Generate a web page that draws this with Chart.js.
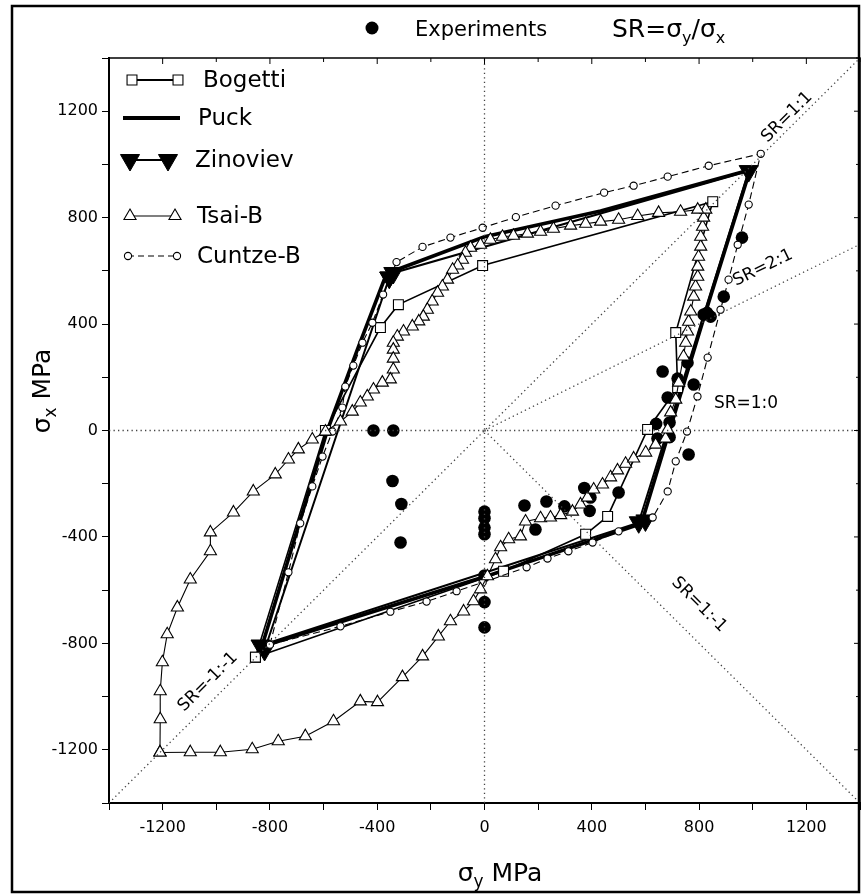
<!DOCTYPE html>
<html>
<head>
<meta charset="utf-8">
<script src="https://cdn.jsdelivr.net/npm/chart.js@4/dist/chart.umd.min.js"></script>
<style>
  html, body { margin: 0; padding: 0; background: #fff; overflow: hidden; }
  #wrap { width: 861px; height: 894px; overflow: hidden; }
</style>
</head>
<body>
<div id="wrap"><canvas id="chart" width="861" height="894"></canvas></div>
<script>
// Achsen
const axisMin = -1400;
const axisMax = 1400;
const tickLabels = [-1200, -800, -400, 0, 400, 800, 1200];

// SR-Hilfslinien [x1, y1, x2, y2]
const srLines = [
  [-1400, 0, 1400, 0],
  [0, -1400, 0, 1400],
  [-1400, -1400, 1400, 1400],
  [0, 0, 1400, 700],
  [0, 0, 1400, -1400]
];
const srLabels = ['SR=1:1', 'SR=2:1', 'SR=1:0', 'SR=1:-1', 'SR=-1:-1'];

// Modelle (sigma_y, sigma_x)
const bogetti = [[-854,-852],[-593,0],[-388,387],[-321,473],[-7,620],[851,860],[713,368],[720,161],[608,4],[459,-323],[377,-390],[71,-529],[-854,-852]];
const puck = [[-365,590],[0,728],[433,825],[990,980],[820,430],[690,0],[585,-350],[0,-550],[-830,-812],[-586,0],[-474,304],[-365,590]];
const zinoviev = [[-355,575],[-340,592],[985,975],[575,-345],[600,-338],[-835,-808],[-820,-825],[-355,575]];
const tsai = [[-1210,-1210],[-1097,-1209],[-985,-1209],[-866,-1198],[-769,-1168],[-668,-1149],[-563,-1093],[-463,-1018],[-399,-1021],[-306,-927],[-231,-849],[-172,-774],[-127,-717],[-78,-680],[-41,-642],[-15,-597],[11,-548],[41,-484],[60,-439],[90,-409],[134,-398],[153,-342],[209,-330],[246,-327],[284,-318],[328,-305],[358,-278],[384,-252],[407,-222],[440,-203],[470,-176],[496,-150],[526,-125],[556,-105],[601,-83],[638,-53],[675,-30],[683,4],[694,68],[713,116],[724,180],[742,278],[750,330],[757,372],[761,409],[769,447],[780,503],[787,541],[795,578],[795,616],[798,653],[806,691],[806,728],[813,766],[817,800],[825,830],[795,830],[731,822],[649,818],[571,806],[500,792],[433,785],[377,777],[321,770],[257,758],[209,747],[160,740],[108,732],[67,728],[22,717],[-15,698],[-52,687],[-71,668],[-82,642],[-100,620],[-119,604],[-138,567],[-157,541],[-175,518],[-195,485],[-213,454],[-228,428],[-245,410],[-269,391],[-302,372],[-325,353],[-340,330],[-340,304],[-340,270],[-340,229],[-351,192],[-381,180],[-414,154],[-437,128],[-463,105],[-493,71],[-537,34],[-593,-4],[-642,-34],[-694,-71],[-731,-109],[-780,-165],[-862,-229],[-936,-308],[-1022,-383],[-1022,-454],[-1097,-560],[-1145,-665],[-1183,-766],[-1201,-871],[-1209,-980],[-1209,-1085],[-1210,-1210]];
const cuntze = [[-800,-805],[-731,-533],[-687,-349],[-642,-210],[-604,-98],[-567,-4],[-530,86],[-519,165],[-489,244],[-455,330],[-418,405],[-378,511],[-328,633],[-231,690],[-127,725],[-7,762],[117,802],[265,845],[446,894],[556,920],[683,954],[836,995],[1030,1040],[985,849],[944,698],[910,567],[880,454],[832,274],[794,128],[755,-4],[713,-116],[683,-229],[627,-327],[500,-379],[403,-421],[313,-454],[235,-481],[157,-514],[-7,-571],[-104,-604],[-216,-643],[-351,-681],[-537,-736],[-800,-805]];

// Experimente
const experiments = [[-414,0],[-340,0],[-343,-190],[-310,-276],[-313,-421],[0,-305],[0,-330],[0,-365],[0,-390],[0,-545],[0,-645],[0,-740],[149,-282],[190,-372],[231,-267],[298,-285],[372,-216],[395,-252],[392,-302],[500,-233],[761,-90],[645,-30],[690,-25],[640,25],[690,30],[683,124],[720,195],[664,222],[757,255],[780,173],[817,436],[843,428],[830,442],[892,503],[960,725]];

const FONT = '"DejaVu Sans", "Liberation Sans", Arial, sans-serif';
const toPts = arr => arr.map(p => ({ x: p[0], y: p[1] }));

function makeDatasets() {
  const datasets = [];
  srLines.forEach(l => {
    datasets.push({
      data: [{ x: l[0], y: l[1] }, { x: l[2], y: l[3] }],
      showLine: true, borderColor: '#444', borderWidth: 1.3, borderDash: [1.3, 3.2],
      pointRadius: 0
    });
  });
  datasets.push({
    label: 'Tsai-B', data: toPts(tsai), showLine: true,
    borderColor: '#000', borderWidth: 1.1, pointStyle: 'triangle', pointRadius: 7,
    pointBackgroundColor: '#fff', pointBorderColor: '#000', pointBorderWidth: 1.1
  });
  datasets.push({
    label: 'Cuntze-B', data: toPts(cuntze), showLine: true,
    borderColor: '#000', borderWidth: 1.1, borderDash: [7, 4], pointStyle: 'circle', pointRadius: 3.6,
    pointBackgroundColor: '#fff', pointBorderColor: '#000', pointBorderWidth: 1.1
  });
  datasets.push({
    label: 'Bogetti', data: toPts(bogetti), showLine: true,
    borderColor: '#000', borderWidth: 1.6, pointStyle: 'rect', pointRadius: 7,
    pointBackgroundColor: '#fff', pointBorderColor: '#000', pointBorderWidth: 1.1
  });
  datasets.push({
    label: 'Puck', data: toPts(puck), showLine: true,
    borderColor: '#000', borderWidth: 3.6, pointRadius: 0
  });
  datasets.push({
    label: 'Zinoviev', data: toPts(zinoviev), showLine: true,
    borderColor: '#000', borderWidth: 2, pointStyle: 'triangle', rotation: 180, pointRadius: 11,
    pointBackgroundColor: '#000', pointBorderColor: '#000', pointBorderWidth: 1
  });
  datasets.push({
    label: 'Experiments', data: toPts(experiments), showLine: false,
    pointStyle: 'circle', pointRadius: 6.3,
    pointBackgroundColor: '#000', pointBorderColor: '#000', pointBorderWidth: 0
  });
  return datasets;
}

// Text mit Indizes
function richText(ctx, parts, x, y, align) {
  let w = 0;
  parts.forEach(p => { ctx.font = p[1] + 'px ' + FONT; w += ctx.measureText(p[0]).width; });
  let cx = align === 'center' ? x - w / 2 : x;
  ctx.textAlign = 'left';
  ctx.textBaseline = 'alphabetic';
  parts.forEach(p => {
    ctx.font = p[1] + 'px ' + FONT;
    ctx.fillText(p[0], cx, y + (p[2] || 0));
    cx += ctx.measureText(p[0]).width;
  });
}

const decor = {
  id: 'decor',
  afterDraw(chart) {
    const ctx = chart.ctx;
    const a = chart.chartArea;
    const xs = chart.scales.x, ys = chart.scales.y;
    const dp = Chart.helpers.drawPoint;
    ctx.save();
    ctx.strokeStyle = '#000';
    ctx.fillStyle = '#000';

    // Rahmen
    ctx.lineWidth = 2.5;
    ctx.strokeRect(12, 6, 847, 886);
    ctx.lineWidth = 1.5;
    ctx.beginPath();
    ctx.moveTo(a.left, a.top); ctx.lineTo(a.right, a.top); ctx.lineTo(a.right, a.bottom);
    ctx.stroke();

    // Ticks oben/rechts nach innen
    ctx.lineWidth = 1;
    for (let v = axisMin; v <= axisMax; v += 200) {
      const len = v % 400 === 0 ? 6 : 4;
      const px = xs.getPixelForValue(v), py = ys.getPixelForValue(v);
      ctx.beginPath();
      ctx.moveTo(px, a.top); ctx.lineTo(px, a.top + len);
      ctx.moveTo(a.right, py); ctx.lineTo(a.right - len, py);
      ctx.stroke();
    }

    // Titelzeile
    ctx.beginPath(); ctx.arc(372, 28, 6.5, 0, Math.PI * 2); ctx.fill();
    richText(ctx, [['Experiments', 21]], 415, 36, 'left');
    richText(ctx, [['SR=σ', 25], ['y', 16, 6], ['/σ', 25], ['x', 16, 6]], 612, 37, 'left');

    // Achsentitel
    richText(ctx, [['σ', 25], ['y', 17, 6], [' MPa', 25]], 500, 881, 'center');
    ctx.save();
    ctx.translate(50, 391);
    ctx.rotate(-Math.PI / 2);
    richText(ctx, [['σ', 25], ['x', 17, 6], [' MPa', 25]], 0, 0, 'center');
    ctx.restore();

    // SR-Beschriftungen
    const srPos = [[1128, 1178, -45], [1038, 611, -26], [975, 100, 0], [800, -655, 45], [-1031, -945, -45]];
    ctx.font = '17px ' + FONT;
    ctx.textAlign = 'center';
    ctx.textBaseline = 'middle';
    srLabels.forEach((t, i) => {
      const p = srPos[i];
      ctx.save();
      ctx.translate(xs.getPixelForValue(p[0]), ys.getPixelForValue(p[1]));
      ctx.rotate(p[2] * Math.PI / 180);
      ctx.fillText(t, 0, 0);
      ctx.restore();
    });

    // Legende
    const leg = [
      { t: 'Bogetti', y: 80, x1: 132, x2: 178, tx: 203, lw: 2, dash: [], m: { pointStyle: 'rect', radius: 7, borderWidth: 1.1 }, fill: '#fff' },
      { t: 'Puck', y: 118, x1: 123, x2: 180, tx: 198, lw: 4, dash: [], m: null },
      { t: 'Zinoviev', y: 160, x1: 130, x2: 168, tx: 195, lw: 2, dash: [], m: { pointStyle: 'triangle', radius: 11, rotation: 180, borderWidth: 1 }, fill: '#000' },
      { t: 'Tsai-B', y: 216, x1: 130, x2: 175, tx: 197, lw: 1.1, dash: [], m: { pointStyle: 'triangle', radius: 7, borderWidth: 1.1 }, fill: '#fff' },
      { t: 'Cuntze-B', y: 256, x1: 128, x2: 177, tx: 197, lw: 1.1, dash: [6, 4], m: { pointStyle: 'circle', radius: 3.6, borderWidth: 1.1 }, fill: '#fff' }
    ];
    leg.forEach(e => {
      ctx.lineWidth = e.lw;
      ctx.setLineDash(e.dash);
      ctx.strokeStyle = '#000';
      ctx.beginPath(); ctx.moveTo(e.x1, e.y); ctx.lineTo(e.x2, e.y); ctx.stroke();
      ctx.setLineDash([]);
      if (e.m) {
        [e.x1, e.x2].forEach(x => {
          ctx.fillStyle = e.fill;
          ctx.strokeStyle = '#000';
          ctx.lineWidth = e.m.borderWidth;
          dp(ctx, e.m, x, e.y);
        });
      }
      ctx.fillStyle = '#000';
      ctx.font = '23px ' + FONT;
      ctx.textAlign = 'left';
      ctx.textBaseline = 'middle';
      ctx.fillText(e.t, e.tx, e.y + 1);
    });
    ctx.restore();
  }
};

function makeConfig() {
  return {
    type: 'scatter',
    data: { datasets: makeDatasets() },
    options: {
      responsive: false,
      maintainAspectRatio: false,
      animation: false,
      layout: { padding: { top: 58, right: 1, left: 0, bottom: 0 } },
      plugins: { legend: { display: false }, tooltip: { enabled: false }, title: { display: false } },
      elements: { line: { tension: 0 } },
      scales: {
        x: {
          type: 'linear', position: 'bottom', min: axisMin, max: axisMax,
          afterFit: s => { s.height = 91; },
          border: { display: true, color: '#000', width: 2 },
          grid: { drawOnChartArea: false, drawTicks: true, tickLength: 7, color: '#000', lineWidth: 1 },
          ticks: {
            stepSize: 200, autoSkip: false, maxRotation: 0, padding: 8, color: '#000',
            font: { family: FONT, size: 16 },
            callback: v => tickLabels.includes(v) ? String(v) : ''
          }
        },
        y: {
          type: 'linear', position: 'left', min: axisMin, max: axisMax,
          afterFit: s => { s.width = 109; },
          border: { display: true, color: '#000', width: 2 },
          grid: { drawOnChartArea: false, drawTicks: true, tickLength: 7, color: '#000', lineWidth: 1 },
          ticks: {
            stepSize: 200, autoSkip: false, padding: 4, color: '#000',
            font: { family: FONT, size: 16 },
            callback: v => tickLabels.includes(v) ? String(v) : ''
          }
        }
      }
    },
    plugins: [decor]
  };
}

const canvas = document.getElementById('chart');
let chart = new Chart(canvas, makeConfig());

// rechten Rand der Plotflaeche auf 860 px bringen
const gap = 860 - chart.chartArea.right;
if (gap > 0.5) {
  chart.destroy();
  const w = Math.round(861 + gap);
  canvas.width = w;
  canvas.height = 894;
  canvas.style.width = w + 'px';
  canvas.style.height = '894px';
  chart = new Chart(canvas, makeConfig());
}
</script>
</body>
</html>
